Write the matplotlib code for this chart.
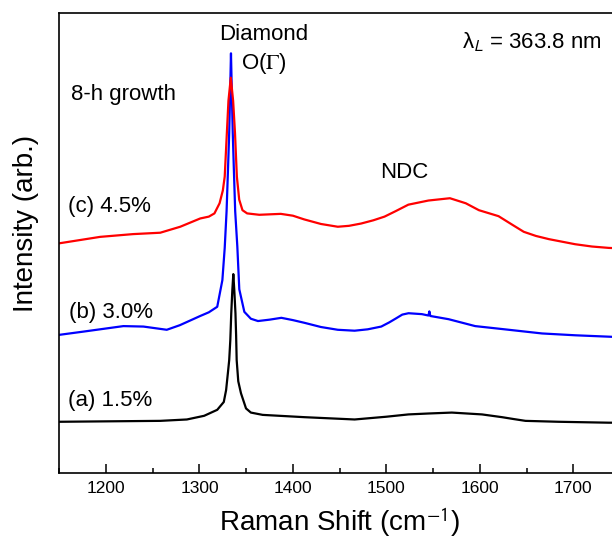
import matplotlib
matplotlib.use("Agg")
import matplotlib.pyplot as plt
from matplotlib.ticker import MultipleLocator

plt.rcParams['font.family'] = ['Liberation Sans', 'DejaVu Sans']
plt.rcParams['mathtext.fontset'] = 'stix'

# (c) 4.5 %  -- red
shift_c = [1150, 1193.7, 1229, 1258, 1279.4, 1300.8, 1310, 1316, 1321.5, 1325, 1327,
           1329.3, 1331, 1333.5, 1336, 1338, 1340, 1342.5, 1346, 1351, 1364, 1387,
           1400, 1412, 1430, 1448, 1460, 1473, 1486, 1498, 1510, 1523.5, 1545, 1568,
           1585, 1599, 1620, 1635, 1647, 1660, 1674, 1702, 1720, 1738, 1750]
int_c = [50.0, 51.4, 52.0, 52.3, 53.6, 55.4, 55.8, 56.5, 58.7, 61.5, 64.5,
         74.0, 81.0, 86.0, 81.0, 74.0, 64.5, 59.5, 57.2, 56.5, 56.2, 56.4,
         56.0, 55.2, 54.2, 53.6, 53.8, 54.3, 55.0, 55.8, 57.0, 58.4, 59.3, 59.8,
         58.7, 57.2, 55.9, 54.0, 52.5, 51.6, 50.9, 49.8, 49.3, 49.0, 48.9]

# (b) 3.0 %  -- blue
shift_b = [1150, 1175.7, 1218.6, 1240, 1265, 1279, 1300.8, 1310, 1319, 1324.5, 1327,
           1329, 1330.5, 1331.8, 1332.7, 1333.7, 1334.7, 1335.6, 1336.8, 1338.2,
           1340.5, 1342.6, 1348, 1355, 1362.6, 1375, 1387.6, 1400, 1412.6, 1430,
           1448, 1466, 1480, 1494.5, 1503, 1510.5, 1517, 1523.7, 1538, 1545, 1546,
           1547, 1566.6, 1595, 1631, 1666.6, 1702.4, 1738, 1750]
int_b = [30.1, 30.8, 32.0, 31.9, 31.2, 32.2, 34.2, 35.0, 36.2, 42.0, 49.0,
         57.0, 66.0, 74.0, 82.0, 91.3, 82.0, 74.0, 66.0, 57.0,
         49.3, 40.0, 35.1, 33.6, 33.1, 33.4, 33.8, 33.3, 32.7, 31.8,
         31.2, 31.0, 31.3, 31.9, 32.8, 33.7, 34.5, 34.8, 34.6, 34.3, 35.2,
         34.2, 33.5, 32.0, 31.2, 30.4, 30.0, 29.7, 29.6]

# (a) 1.5 %  -- black
shift_a = [1150, 1258, 1286.5, 1305, 1319, 1326, 1328.5, 1330.5, 1331.8, 1333, 1334,
           1335.2, 1336.2, 1337.2, 1338.5, 1339.2, 1339.8, 1341.5, 1344.4, 1349.8,
           1355, 1367.6, 1412.3, 1466, 1500, 1523.6, 1545, 1570, 1602.3, 1623.8,
           1636, 1648.8, 1684.5, 1738, 1750]
int_a = [11.2, 11.4, 11.7, 12.5, 13.8, 15.5, 18.1, 22.0, 24.6, 29.0, 34.8,
         40.0, 43.3, 40.0, 34.8, 30.0, 24.6, 20.0, 17.4, 14.1,
         13.2, 12.7, 12.2, 11.7, 12.3, 12.8, 13.0, 13.2, 12.8, 12.2,
         11.8, 11.4, 11.2, 11.0, 11.0]

xticks = [1200, 1300, 1400, 1500, 1600, 1700]

fig = plt.figure(figsize=(6.12, 5.39), dpi=100)
# right spine sits just outside the picture, as in the original
ax = fig.add_axes([0.0969, 0.1219, 0.9162, 0.8534])

lw = 1.6
ax.plot(shift_a, int_a, color='black', lw=lw)
ax.plot(shift_b, int_b, color='#0000ff', lw=lw)
ax.plot(shift_c, int_c, color='#ff0000', lw=lw)

ax.set_xlim(1150, 1750)
ax.set_ylim(0, 100)
ax.set_xticks(xticks)
ax.xaxis.set_minor_locator(MultipleLocator(50))
ax.set_yticks([])
ax.tick_params(axis='x', which='major', direction='in', length=6.7, width=1.1,
               labelsize=12.5, pad=5.5)
ax.tick_params(axis='x', which='minor', direction='in', length=3.6, width=1.1)
for s in ax.spines.values():
    s.set_linewidth(1.2)

ax.set_xlabel(r'Raman Shift (cm$^{\mathsf{-1}}$)', fontsize=20, labelpad=7)
ax.set_ylabel('Intensity (arb.)', fontsize=20)
ax.yaxis.set_label_coords(-0.037, 0.543)

fs = 16
ax.text(1321, 94.2, 'Diamond', fontsize=fs)
ax.text(1344.7, 88.0, r'O($\Gamma$)', fontsize=fs)
ax.text(1580.4, 92.4, r'λ$_{\mathsf{L}}$ = 363.8 nm', fontsize=fs)
ax.text(1162.6, 81.2, '8-h growth', fontsize=fs)
ax.text(1493.6, 64.2, 'NDC', fontsize=fs)
ax.text(1159.3, 56.9, '(c) 4.5%', fontsize=fs)
ax.text(1160.4, 33.7, '(b) 3.0%', fontsize=fs)
ax.text(1159.3, 14.7, '(a) 1.5%', fontsize=fs)

fig.savefig('out.png', dpi=100)
